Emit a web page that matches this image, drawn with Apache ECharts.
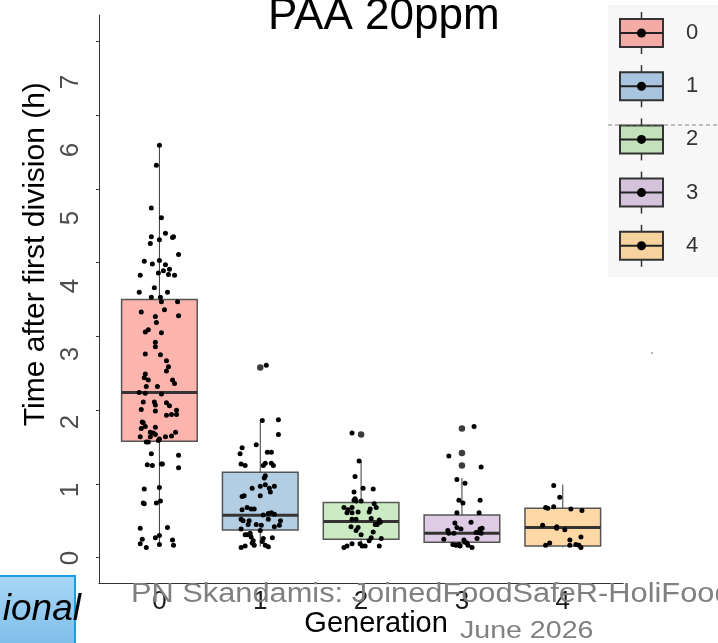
<!DOCTYPE html>
<html><head><meta charset="utf-8">
<script src="https://cdn.jsdelivr.net/npm/echarts@6/dist/echarts.min.js"></script>
<style>html,body{margin:0;padding:0;background:#fff}#c{width:718px;height:643px}</style>
</head><body><div id="c"></div>
<script>
const generations = ['0', '1', '2', '3', '4'];
const boxColors = ['#FBB4AE', '#B3CDE3', '#CCEBC5', '#DECBE4', '#FED9A6'];
const legendColors = ['#f4aaa5', '#a9c4de', '#c3e2bb', '#d5c3dc', '#f6d39e'];
const yTicks = [0, 1, 2, 3, 4, 5, 6, 7];
// [lower whisker, Q1, median, Q3, upper whisker]
const boxGen0 = [0.17, 1.58, 2.24, 3.50, 5.59];
const boxGen1 = [0.15, 0.375, 0.575, 1.16, 1.84];
const boxGen2 = [0.14, 0.25, 0.49, 0.75, 1.31];
const boxGen3 = [0.14, 0.21, 0.33, 0.58, 1.08];
const boxGen4 = [0.14, 0.16, 0.41, 0.67, 0.99];
const outliersByGen = [[], [2.58], [1.67], [1.75, 1.42, 1.25], []];
// jittered points: [horizontal jitter, time (h)]
const gen0Points = [[0.00,5.59],[-0.03,5.32],[-0.08,4.74],[0.02,4.61],[0.06,4.40],[-0.08,4.35],[0.14,4.35],[0.13,4.34],[0.00,4.31],[-0.09,4.26],[0.19,4.11],[-0.15,4.02],[0.00,4.03],[-0.07,3.98],[0.06,3.97],[0.10,3.91],[0.04,3.89],[0.09,3.84],[-0.01,3.86],[0.15,3.83],[-0.19,3.83],[-0.05,3.66],[-0.20,3.60],[0.08,3.60],[-0.08,3.53],[0.01,3.53],[0.02,3.47],[0.18,3.47],[0.05,3.36],[-0.18,3.33],[0.19,3.28],[-0.04,3.27],[-0.03,3.19],[-0.11,3.09],[-0.14,3.06],[0.02,3.05],[-0.04,2.92],[-0.04,2.86],[-0.14,2.76],[0.01,2.75],[0.07,2.67],[0.09,2.59],[0.07,2.53],[-0.14,2.49],[-0.15,2.44],[-0.11,2.41],[0.13,2.41],[0.15,2.36],[-0.13,2.32],[-0.02,2.32],[-0.20,2.24],[-0.14,2.23],[0.02,2.22],[-0.16,2.11],[-0.05,2.11],[-0.04,2.07],[0.07,2.10],[0.10,2.06],[-0.18,2.01],[-0.04,1.99],[0.17,2.00],[0.07,1.93],[0.12,1.94],[0.17,1.94],[-0.17,1.84],[-0.16,1.83],[-0.14,1.78],[-0.18,1.75],[-0.04,1.77],[-0.09,1.70],[-0.06,1.69],[-0.04,1.67],[0.16,1.70],[0.12,1.65],[-0.19,1.64],[-0.09,1.64],[0.06,1.64],[0.00,1.61],[-0.01,1.59],[-0.13,1.57],[-0.11,1.57],[-0.08,1.41],[0.19,1.39],[-0.12,1.26],[-0.07,1.25],[0.02,1.27],[0.03,1.27],[0.19,1.22],[-0.15,0.93],[0.00,0.95],[-0.16,0.74],[-0.15,0.73],[-0.03,0.74],[0.01,0.77],[-0.19,0.40],[0.08,0.41],[-0.17,0.25],[-0.19,0.19],[-0.13,0.14],[-0.04,0.27],[0.00,0.30],[0.00,0.18],[0.13,0.24],[0.14,0.17]];
const gen1Points = [[0.06,2.61],[0.02,1.86],[0.18,1.87],[0.18,1.67],[-0.04,1.53],[-0.18,1.49],[-0.20,1.41],[0.07,1.43],[0.11,1.43],[-0.19,1.27],[-0.15,1.25],[0.03,1.25],[0.05,1.28],[0.11,1.28],[0.13,1.25],[0.05,1.11],[0.04,1.08],[-0.08,0.94],[0.00,0.97],[0.05,0.99],[0.09,0.94],[0.14,0.97],[0.10,0.89],[-0.18,0.83],[-0.16,0.84],[0.00,0.84],[-0.18,0.65],[-0.13,0.68],[-0.09,0.66],[-0.06,0.66],[0.03,0.58],[0.08,0.60],[0.11,0.61],[0.14,0.59],[-0.19,0.52],[-0.17,0.50],[-0.11,0.50],[0.08,0.52],[0.20,0.50],[-0.12,0.45],[-0.04,0.45],[0.01,0.44],[0.14,0.42],[0.19,0.44],[-0.19,0.39],[0.00,0.37],[-0.15,0.31],[-0.13,0.31],[-0.10,0.33],[-0.09,0.28],[0.03,0.26],[0.12,0.27],[-0.07,0.23],[-0.08,0.20],[0.02,0.22],[-0.06,0.17],[-0.19,0.14],[-0.15,0.16],[0.05,0.17],[0.08,0.15]];
const gen2Points = [[-0.09,1.69],[-0.02,1.31],[-0.06,1.10],[0.02,0.94],[0.12,0.93],[-0.07,0.89],[-0.06,0.80],[-0.07,0.78],[-0.05,0.77],[0.00,0.77],[0.13,0.73],[-0.17,0.68],[-0.09,0.68],[0.15,0.68],[-0.13,0.65],[0.09,0.66],[-0.14,0.61],[-0.09,0.61],[-0.03,0.62],[0.08,0.62],[-0.09,0.52],[-0.05,0.52],[0.10,0.53],[0.18,0.51],[0.19,0.48],[0.14,0.45],[0.16,0.45],[-0.10,0.42],[-0.03,0.41],[0.12,0.35],[-0.05,0.37],[0.00,0.31],[0.10,0.27],[0.08,0.23],[0.20,0.26],[-0.09,0.19],[-0.01,0.19],[0.01,0.16],[0.04,0.16],[0.18,0.16],[-0.14,0.16],[-0.17,0.14]];
const gen3Points = [[0.12,1.78],[-0.13,1.38],[0.19,1.23],[-0.05,1.06],[0.03,1.01],[-0.03,0.78],[0.01,0.74],[0.18,0.78],[-0.05,0.61],[0.17,0.61],[-0.07,0.47],[0.09,0.48],[-0.05,0.41],[-0.01,0.39],[0.18,0.39],[0.20,0.40],[-0.14,0.37],[0.15,0.34],[-0.13,0.33],[-0.08,0.33],[0.14,0.34],[0.19,0.33],[-0.18,0.25],[0.15,0.26],[0.02,0.24],[0.03,0.21],[-0.09,0.18],[-0.06,0.17],[-0.03,0.18],[-0.02,0.16],[0.06,0.17],[0.10,0.14],[0.05,0.20]];
const gen4Points = [[-0.09,0.98],[-0.03,0.82],[-0.17,0.68],[-0.15,0.67],[-0.09,0.69],[0.08,0.66],[0.19,0.64],[-0.20,0.44],[-0.06,0.42],[-0.06,0.40],[0.02,0.38],[0.18,0.28],[0.07,0.24],[-0.13,0.20],[-0.17,0.17],[0.07,0.17],[0.13,0.18],[0.16,0.17],[0.18,0.14]];

const boxStats = [boxGen0, boxGen1, boxGen2, boxGen3, boxGen4];
const pointSets = [gen0Points, gen1Points, gen2Points, gen3Points, gen4Points];
const FONT = 'Liberation Sans, Arial, sans-serif';

const boxData = boxStats.map((s, i) => [i].concat(s));
const scatterData = [];
pointSets.forEach((pts, i) => pts.forEach(p => scatterData.push([i + p[0], p[1]])));
const outlierData = [];
outliersByGen.forEach((arr, i) => arr.forEach(v => outlierData.push([i, v])));

// legend drawn as graphic (box-with-whisker key)
const legendGraphics = [
  {type: 'rect', shape: {x: 608, y: 5, width: 112, height: 272}, style: {fill: '#f7f7f7'}, z: 1},
  {type: 'line', shape: {x1: 608, y1: 125, x2: 718, y2: 125}, style: {stroke: '#888', lineWidth: 1, lineDash: [4, 3]}, z: 3}
];
generations.forEach((g, i) => {
  const cy = 33 + i * 53.2, cx = 641.5;
  legendGraphics.push(
    {type: 'line', shape: {x1: cx, y1: cy - 21, x2: cx, y2: cy + 21}, style: {stroke: '#333', lineWidth: 1.5}, z: 2},
    {type: 'rect', shape: {x: cx - 21.5, y: cy - 14, width: 43, height: 28}, style: {fill: legendColors[i], stroke: '#333', lineWidth: 2}, z: 2},
    {type: 'line', shape: {x1: cx - 21.5, y1: cy, x2: cx + 21.5, y2: cy}, style: {stroke: '#222', lineWidth: 2}, z: 2},
    {type: 'circle', shape: {cx: cx, cy: cy, r: 4.5}, style: {fill: '#000'}, z: 2},
    {type: 'text', x: 692, y: cy, style: {text: g, font: '22px ' + FONT, fill: '#333', align: 'center', verticalAlign: 'middle'}, z: 2}
  );
});

const chart = echarts.init(document.getElementById('c'), null, {renderer: 'canvas'});
chart.setOption({
  backgroundColor: '#fff',
  animation: false,
  title: {
    text: 'PAA 20ppm', left: 268, top: -5, padding: 0,
    textStyle: {fontSize: 44, fontWeight: 'normal', color: '#000', fontFamily: FONT}
  },
  grid: {left: 98.9, right: 94.7, top: 15, bottom: 59.7, containLabel: false, outerBoundsMode: 'none'},
  xAxis: {
    type: 'value', min: -0.6, max: 4.6,
    axisLine: {show: true, onZero: false, lineStyle: {color: '#333', width: 1}},
    axisTick: {show: false},
    splitLine: {show: false},
    axisLabel: {
      customValues: [0, 1, 2, 3, 4],
      formatter: v => generations[Math.round(v)],
      fontSize: 26, color: '#1a1a1a', margin: 6, fontFamily: FONT
    },
    name: 'Generation', nameLocation: 'middle', nameGap: 26, nameMoveOverlap: false,
    nameTextStyle: {fontSize: 29, color: '#000', fontFamily: FONT, padding: [0, 0, 0, 30]}
  },
  yAxis: [
    {
      type: 'value', min: -0.347, max: 7.357, position: 'left',
      axisLine: {show: true, onZero: false, lineStyle: {color: '#333', width: 1}},
      axisTick: {show: true, customValues: yTicks, length: 3, lineStyle: {color: '#333'}},
      axisLabel: {show: false},
      splitLine: {show: false},
      name: 'Time after first division (h)', nameLocation: 'middle', nameRotate: 90, nameGap: 48, nameMoveOverlap: false,
      nameTextStyle: {fontSize: 30, color: '#000', fontFamily: FONT, padding: [0, 0, 0, 90]}
    },
    {
      type: 'value', min: -0.372, max: 7.985, position: 'left',
      axisLine: {show: false}, axisTick: {show: false}, splitLine: {show: false},
      axisLabel: {
        customValues: yTicks, rotate: 90, fontSize: 26, color: '#4d4d4d', margin: 15, fontFamily: FONT
      }
    }
  ],
  graphic: legendGraphics.concat([
    {type: 'circle', shape: {cx: 652, cy: 353, r: 0.8}, style: {fill: '#555'}},
    {type: 'rect', shape: {x: -3, y: 576, width: 78, height: 70},
      style: {fill: {type: 'linear', x: 0, y: 0, x2: 0, y2: 1, colorStops: [{offset: 0, color: '#a9d7f6'}, {offset: 1, color: '#7dbde9'}]},
        stroke: '#1a9ee0', lineWidth: 2}, z: 5},
    {type: 'text', x: 81, y: 610, style: {text: 'ional', font: 'italic 37px ' + FONT, fill: '#000', align: 'right', verticalAlign: 'middle'}, z: 6},
    {type: 'text', x: 131, y: 595, scaleX: 1.14, style: {text: 'PN Skandamis: JoinedFoodSafeR-HoliFood', font: '27px ' + FONT, fill: '#808080', align: 'left', verticalAlign: 'middle'}, z: 6},
    {type: 'text', x: 460, y: 631.5, scaleX: 1.19, style: {text: 'June 2026', font: '24px ' + FONT, fill: '#808080', align: 'left', verticalAlign: 'middle'}, z: 6}
  ]),
  series: [
    {
      type: 'custom', name: 'boxes', xAxisIndex: 0, yAxisIndex: 0, z: 2,
      encode: {x: 0, y: [1, 2, 3, 4, 5]},
      data: boxData,
      renderItem: function (params, api) {
        const x = api.value(0);
        const lo = api.coord([x, api.value(1)]);
        const q1 = api.coord([x, api.value(2)]);
        const md = api.coord([x, api.value(3)]);
        const q3 = api.coord([x, api.value(4)]);
        const hi = api.coord([x, api.value(5)]);
        const w = api.size([0.75, 0])[0];
        const left = md[0] - w / 2;
        return {
          type: 'group', children: [
            {type: 'line', shape: {x1: hi[0], y1: hi[1], x2: q3[0], y2: q3[1]}, style: {stroke: '#3a3a3a', lineWidth: 1}},
            {type: 'line', shape: {x1: q1[0], y1: q1[1], x2: lo[0], y2: lo[1]}, style: {stroke: '#3a3a3a', lineWidth: 1}},
            {type: 'rect', shape: {x: left, y: q3[1], width: w, height: q1[1] - q3[1]}, style: {fill: boxColors[params.dataIndex], stroke: '#555', lineWidth: 1.5}},
            {type: 'line', shape: {x1: left, y1: md[1], x2: left + w, y2: md[1]}, style: {stroke: '#333', lineWidth: 3}}
          ]
        };
      }
    },
    {
      type: 'scatter', name: 'outliers', xAxisIndex: 0, yAxisIndex: 0, z: 3,
      data: outlierData, symbolSize: 6.5, itemStyle: {color: '#3c3c3c', opacity: 1}
    },
    {
      type: 'scatter', name: 'points', xAxisIndex: 0, yAxisIndex: 0, z: 4,
      data: scatterData, symbolSize: 5, itemStyle: {color: '#000', opacity: 1}
    }
  ]
});
</script></body></html>
